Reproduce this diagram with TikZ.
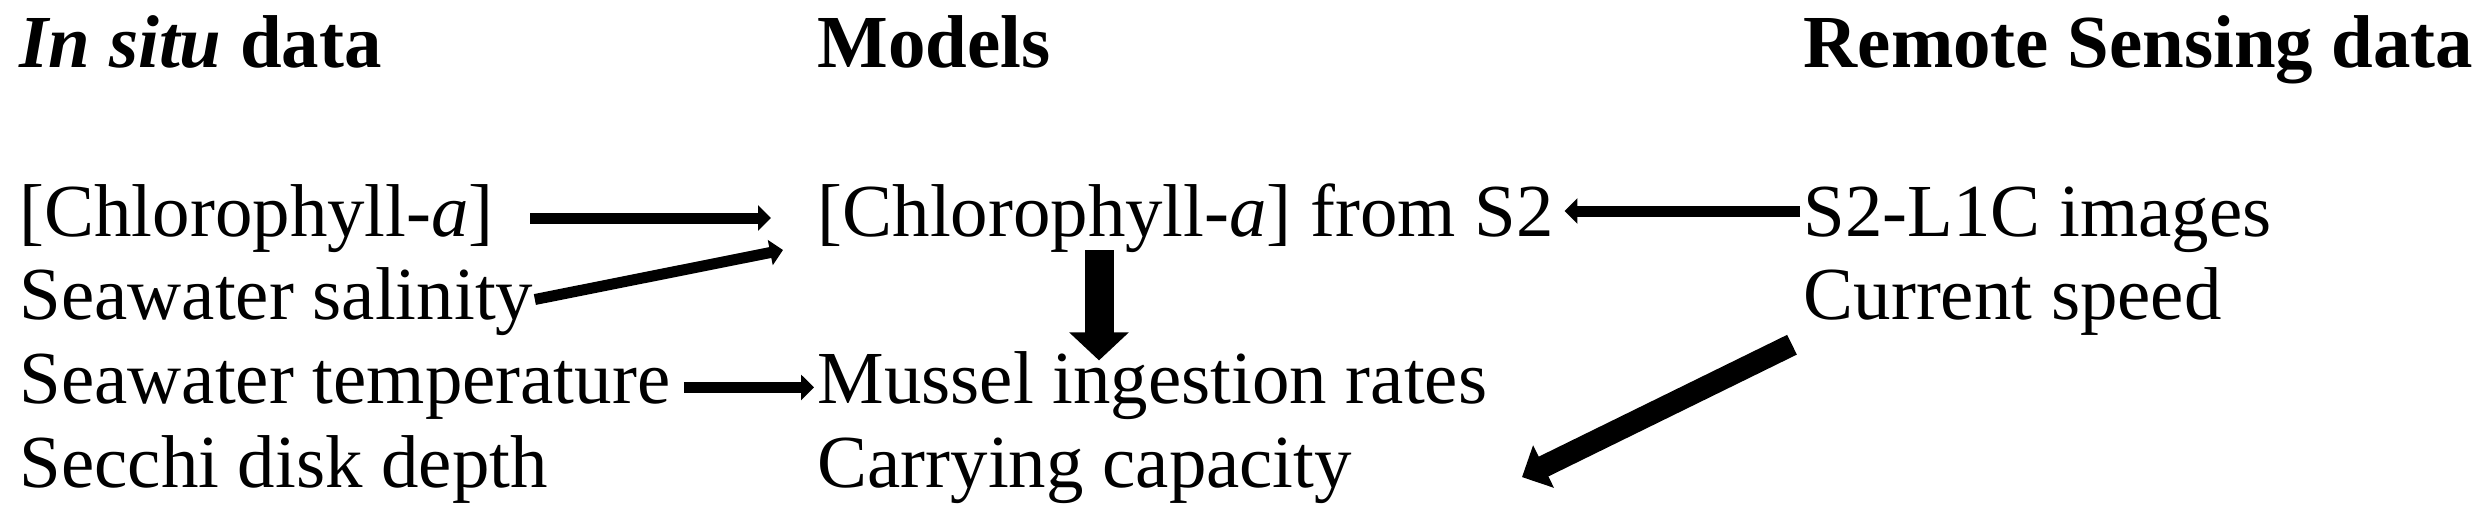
\documentclass[tikz,border=0pt]{standalone}
\usepackage{fontspec}
\setmainfont{Liberation Serif}
\usepackage{tikz}
\usetikzlibrary{arrows.meta,positioning}

\begin{document}
\begin{tikzpicture}[
    >={Triangle[length=1.3mm,width=2.5mm]},
    font=\fontsize{21.3}{25}\selectfont,
    item/.style={
		inner sep=0pt,
		anchor=base west
	},
	head/.style={
		item,
		font=\fontsize{21.3}{25}\selectfont\bfseries
	},
	link/.style={
		line width=1.1mm
	},
	bigarrow/.style={
		line width=2.9mm,
		-{Triangle[length=2.8mm,width=5.8mm]}
	},
	slantarrow/.style={
		line width=2.2mm,
		-{Triangle[length=2.4mm,width=4.6mm]}
	}
  ]
  \useasboundingbox (0,0) rectangle (24.9,5.27);

    % We start by placing the headings
  \node [head] (insitu) at (0.19,4.60) {\textit{In situ} data};
  \node [head] (models) at ([xshift=7.98cm]insitu.base west) {Models};
  \node [head] (rsdata) at ([xshift=17.84cm]insitu.base west) {Remote Sensing data};

    % in situ column
  \node [item] (chla) at ([yshift=-1.69cm]insitu.base west) {[Chlorophyll-\textit{a}]};
  \node [item] (salinity) at ([yshift=-0.837cm]chla.base west) {Seawater salinity};
  \node [item] (temperature) at ([yshift=-0.837cm]salinity.base west) {Seawater temperature};
  \node [item] (secchi) at ([yshift=-0.837cm]temperature.base west) {Secchi disk depth};

    % models column
  \node [item] (chlaS2) at ([xshift=7.98cm]chla.base west) {[Chlorophyll-\textit{a}] from S2};
  \node [item] (ingestion) at ([xshift=7.98cm]temperature.base west) {Mussel ingestion rates};
  \node [item] (capacity) at ([xshift=7.98cm]secchi.base west) {Carrying capacity};

    % remote sensing column
  \node [item] (images) at ([xshift=17.84cm]chla.base west) {S2-L1C images};
  \node [item] (speed) at ([xshift=17.84cm]salinity.base west) {Current speed};

 \draw [link,->,shorten <=3.6mm,shorten >=4.6mm] ([yshift=1.8mm]chla.base east) -- ([yshift=1.8mm]chlaS2.base west);
 \draw [link,->,shorten <=0.1mm] ([yshift=2mm]salinity.base east) -- ([xshift=-3.4mm,yshift=-1.4mm]chlaS2.base west);
 \draw [link,->,shorten <=1.3mm,shorten >=0.3mm] ([yshift=1.6mm]temperature.base east) -- ([yshift=1.6mm]ingestion.base west);
 \draw [link,->,shorten <=0.3mm,shorten >=1mm] ([yshift=2.5mm]images.base west) -- ([yshift=2.5mm]chlaS2.base east);
 \draw [bigarrow] ([xshift=2.82cm,yshift=-1.4mm]chlaS2.base west) -- ([xshift=2.82cm,yshift=4.3mm]ingestion.base west);
 \draw [slantarrow] ([xshift=-1.1mm,yshift=-2.5mm]speed.base west) -- ([xshift=7.05cm,yshift=1mm]capacity.base west);

\end{tikzpicture}
\end{document}
